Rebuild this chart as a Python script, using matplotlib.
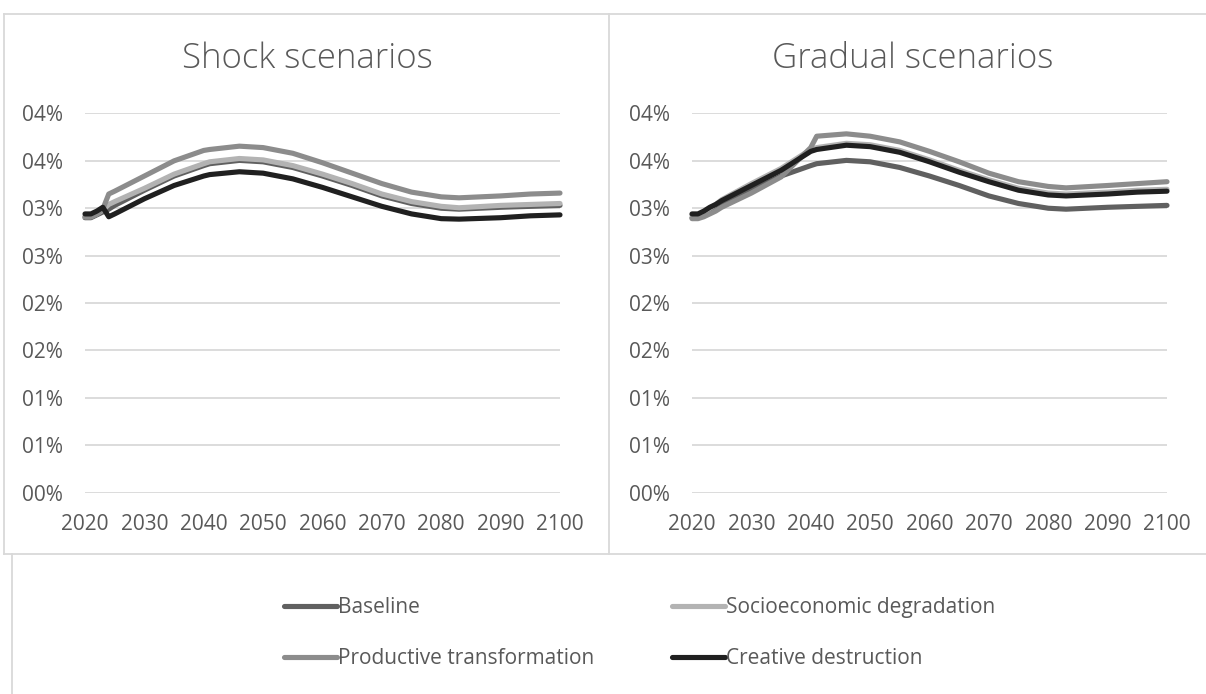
import math
import matplotlib
matplotlib.use('Agg')
import matplotlib.pyplot as plt
from matplotlib.lines import Line2D
from matplotlib.ticker import FuncFormatter

plt.rcParams['font.family'] = ['Open Sans', 'DejaVu Sans']

# values in percent
years = [2020, 2021, 2022, 2023, 2024, 2025, 2030, 2035, 2040, 2041, 2046,
         2050, 2055, 2060, 2065, 2070, 2075, 2080, 2083, 2090, 2095, 2100]

baseline = [2.90, 2.90, 2.93, 2.96, 2.99, 3.03, 3.19, 3.34, 3.45, 3.47, 3.505,
            3.49, 3.43, 3.34, 3.24, 3.13, 3.05, 3.00, 2.99, 3.01, 3.02, 3.03]

# shock scenarios
socio_shock = [2.91, 2.91, 2.94, 2.98, 3.04, 3.07, 3.21, 3.36, 3.47, 3.49, 3.525,
               3.51, 3.45, 3.36, 3.26, 3.15, 3.07, 3.02, 3.005, 3.03, 3.04, 3.05]
prod_shock = [2.91, 2.91, 2.94, 2.99, 3.15, 3.18, 3.34, 3.50, 3.61, 3.62, 3.655,
              3.64, 3.58, 3.48, 3.37, 3.26, 3.17, 3.12, 3.11, 3.13, 3.15, 3.16]
creat_shock = [2.94, 2.94, 2.97, 3.01, 2.91, 2.94, 3.10, 3.24, 3.34, 3.355, 3.385,
               3.37, 3.31, 3.22, 3.12, 3.02, 2.94, 2.89, 2.885, 2.90, 2.92, 2.93]

# gradual scenarios
socio_grad = [2.93, 2.93, 2.96, 3.00, 3.04, 3.09, 3.26, 3.42, 3.62, 3.64, 3.685,
              3.67, 3.61, 3.51, 3.40, 3.30, 3.21, 3.16, 3.15, 3.17, 3.19, 3.20]
prod_grad = [2.89, 2.89, 2.91, 2.94, 2.97, 3.01, 3.16, 3.33, 3.64, 3.76, 3.785,
             3.76, 3.70, 3.60, 3.49, 3.37, 3.28, 3.23, 3.215, 3.24, 3.26, 3.28]
creat_grad = [2.94, 2.94, 2.97, 3.01, 3.04, 3.08, 3.24, 3.40, 3.60, 3.62, 3.665,
              3.65, 3.59, 3.49, 3.38, 3.28, 3.19, 3.14, 3.13, 3.15, 3.17, 3.18]

names = ['Baseline', 'Socioeconomic degradation', 'Productive transformation', 'Creative destruction']
colors = ['#606060', '#b3b3b3', '#8c8c8c', '#202020']
y_ticks = [0, 0.5, 1, 1.5, 2, 2.5, 3, 3.5, 4]
x_ticks = [2020, 2030, 2040, 2050, 2060, 2070, 2080, 2090, 2100]

W, H = 1206, 694
TXT = '#595959'
EDGE = '#d9d9d9'

fig = plt.figure(figsize=(W / 100, H / 100), dpi=100)


def box(x0, y0, x1, y1):
    return [x0 / W, 1 - y1 / H, (x1 - x0) / W, (y1 - y0) / H]


def hline(x0, x1, y):
    fig.add_artist(Line2D([x0 / W, x1 / W], [1 - y / H, 1 - y / H], color=EDGE, lw=1.3))


def vline(x, y0, y1):
    fig.add_artist(Line2D([x / W, x / W], [1 - y0 / H, 1 - y1 / H], color=EDGE, lw=1.3))


# chart frames
hline(4, W, 14)
hline(4, W, 554)
vline(4, 14, 554)
vline(609.5, 14, 554)
vline(12, 554, H)

panels = [
    (box(85, 113, 560, 493), 'Shock scenarios', 307,
     [baseline, socio_shock, prod_shock, creat_shock]),
    (box(692, 113, 1167, 493), 'Gradual scenarios', 913,
     [baseline, socio_grad, prod_grad, creat_grad]),
]

handles = []
for rect, title, tx, series in panels:
    ax = fig.add_axes(rect)
    lines = []
    for name, vals, c in zip(names, series, colors):
        ln, = ax.plot(years, vals, color=c, lw=3.7, label=name,
                      solid_capstyle='round', solid_joinstyle='round', clip_on=False)
        lines.append(ln)
    handles = lines
    ax.set_xlim(2020, 2100)
    ax.set_ylim(-0.005, 4.005)
    ax.set_xticks(x_ticks)
    ax.set_yticks(y_ticks)
    ax.yaxis.set_major_formatter(FuncFormatter(lambda v, p: f'{math.floor(v + 0.5 + 1e-9):02d}%'))
    ax.grid(axis='y', color=EDGE, lw=1.3)
    ax.set_axisbelow(True)
    for s in ax.spines.values():
        s.set_visible(False)
    ax.tick_params(axis='both', length=0, labelsize=15, labelcolor=TXT)
    ax.tick_params(axis='y', pad=16)
    ax.tick_params(axis='x', pad=15)
    fig.text(tx / W, 1 - 59 / H, title, ha='center', va='center',
             fontsize=25, color=TXT, fontweight='light')

order = [0, 2, 1, 3]
fig.legend([handles[i] for i in order], [names[i] for i in order], ncol=2,
           loc='center left', bbox_to_anchor=(284 / W, 1 - 633 / H), frameon=False,
           fontsize=15, labelcolor=TXT, handlelength=2.55, handletextpad=0.05,
           columnspacing=3.7, labelspacing=1.45, borderpad=0, borderaxespad=0)

fig.savefig('out.png', dpi=100)
